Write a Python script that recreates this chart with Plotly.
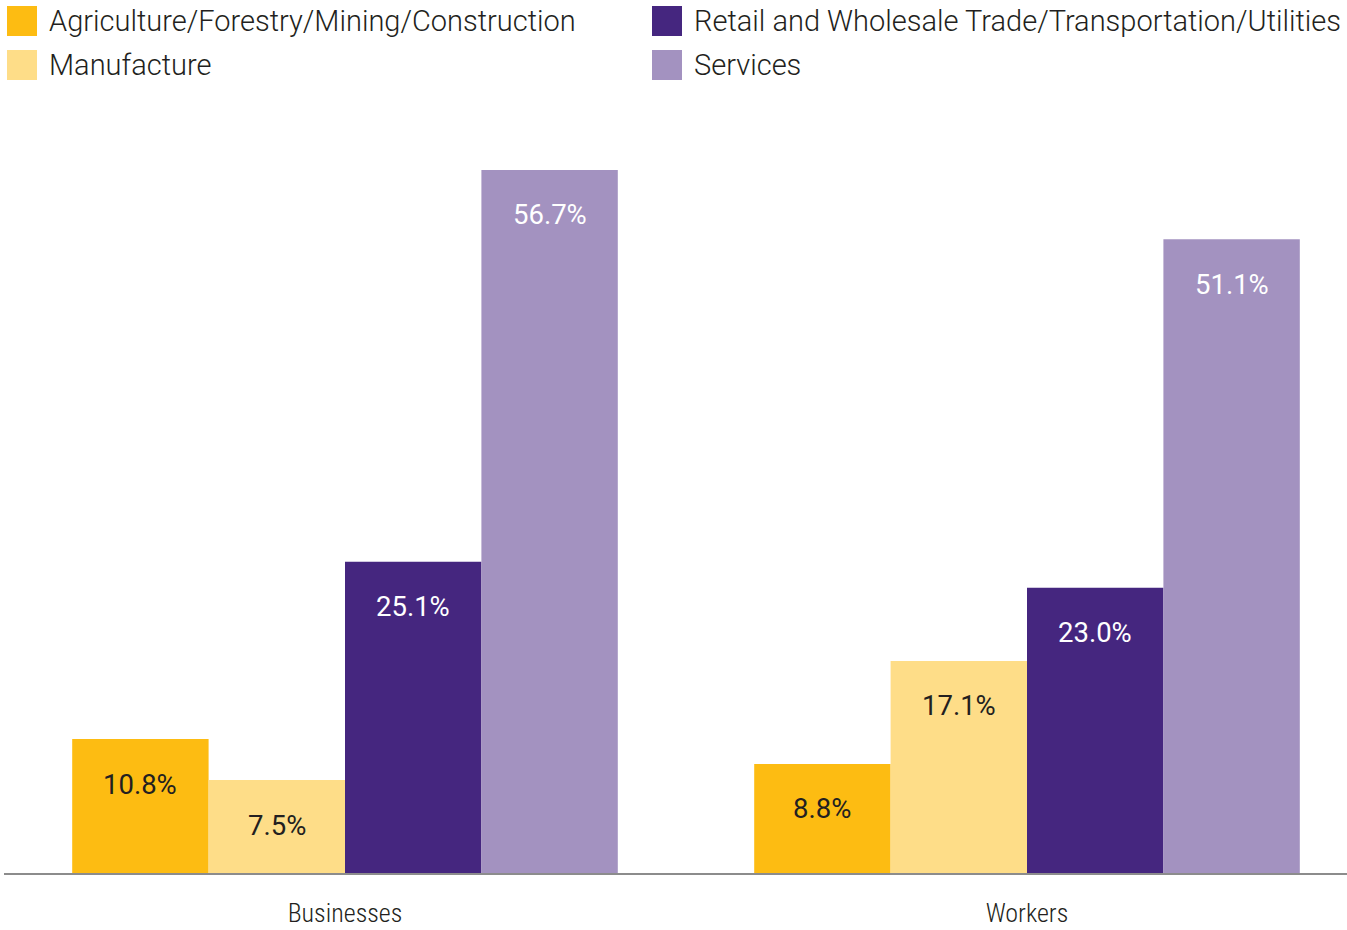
import plotly.graph_objects as go

categories = ["Businesses", "Workers"]
series_names = [
    "Agriculture/Forestry/Mining/Construction",
    "Manufacture",
    "Retail and Wholesale Trade/Transportation/Utilities",
    "Services",
]
agri = [10.8, 8.8]
manu = [7.5, 17.1]
retail = [25.1, 23.0]
services = [56.7, 51.1]
series_values = [agri, manu, retail, services]
colors = ["#FDBC12", "#FEDD88", "#45267F", "#A392C0"]
label_colors = ["#231F20", "#231F20", "#FFFFFF", "#FFFFFF"]

W, H = 1347, 930
ML, MR, MT, MB = 4, 0, 100, 57
PW, PH = W - ML - MR, H - MT - MB

def px_x(p):
    return (p - ML) / PW

def px_y(p):
    return (H - MB - p) / PH

fig = go.Figure()
for i, (name, vals) in enumerate(zip(series_names, series_values)):
    fig.add_trace(go.Bar(
        x=categories, y=vals, name=name, marker_color=colors[i],
        marker_line_width=0, showlegend=False, hoverinfo="x+y+name",
    ))

annotations = []
n = len(series_names)
gw = 0.8 / n
for i, vals in enumerate(series_values):
    for ci, v in enumerate(vals):
        annotations.append(dict(
            x=ci - 0.4 + gw * (i + 0.5), y=v, xref="x", yref="y",
            text=f"{v:.1f}%", showarrow=False, yshift=-45,
            xanchor="center", yanchor="middle",
            font=dict(family="Roboto, Liberation Sans, sans-serif", size=27.5, color=label_colors[i]),
        ))

# manual legend (2 columns x 2 rows)
shapes = []
legend_pos = [(7, 6), (7, 50), (652, 6), (652, 50)]
for i, name in enumerate(series_names):
    lx, ly = legend_pos[i]
    shapes.append(dict(type="rect", xref="paper", yref="paper",
                       x0=px_x(lx), x1=px_x(lx + 30), y0=px_y(ly + 30), y1=px_y(ly),
                       fillcolor=colors[i], line_width=0))
    annotations.append(dict(
        x=px_x(lx + 40), y=px_y(ly + 15), xref="paper", yref="paper",
        text=name, showarrow=False, xanchor="left", yanchor="middle",
        font=dict(family="Roboto, Liberation Sans, sans-serif", size=29, weight=300, color="#231F20"),
    ))

fig.update_layout(
    width=W, height=H, autosize=False,
    margin=dict(l=ML, r=MR, t=MT, b=MB),
    paper_bgcolor="white", plot_bgcolor="white",
    barmode="group", bargap=0.2, bargroupgap=0,
    showlegend=False,
    annotations=annotations, shapes=shapes,
)
fig.update_xaxes(
    type="category", range=[-0.5, 1.4692], automargin=False,
    showline=True, linecolor="#8C8C8C", linewidth=2, layer="below traces",
    showgrid=False, zeroline=False, ticks="", ticklabelstandoff=16,
    tickfont=dict(family="Roboto Condensed, Liberation Sans Narrow, sans-serif", size=26, weight=300, color="#231F20"),
)
fig.update_yaxes(range=[0, PH / 12.4], visible=False, showgrid=False, zeroline=False, automargin=False)

fig.write_html("out.html", config={"displayModeBar": False})

# remove the default page margin so the figure sits at the window's corner
with open("out.html", encoding="utf-8") as f:
    html = f.read()
html = html.replace("<body>", '<body style="margin:0;padding:0;overflow:hidden">', 1)
with open("out.html", "w", encoding="utf-8") as f:
    f.write(html)
